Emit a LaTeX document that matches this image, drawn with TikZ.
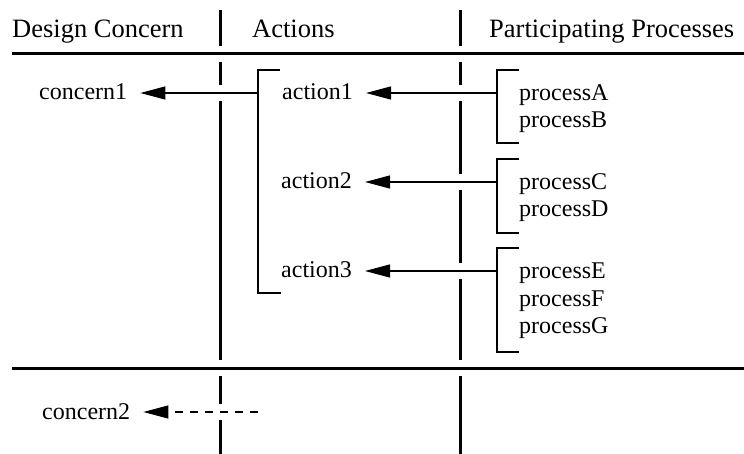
\documentclass[tikz,border=0pt]{standalone}
\usepackage{fontspec}
\setmainfont{Liberation Serif}
\usetikzlibrary{arrows.meta}

\begin{document}
\begin{tikzpicture}[x=1pt, y=-1pt,
    lbl/.style={anchor=base west, inner sep=0pt, font=\fontsize{24}{27}\selectfont},
    head/.style={lbl, font=\fontsize{26.5}{30}\selectfont},
    sepline/.style={line width=3pt},
    brk/.style={line width=1.2pt},
    arr/.style={line width=1.2pt, -{Triangle[length=25pt,width=13pt]}}]
\useasboundingbox (0,0) rectangle (744,454);
% column heads
\node[head] (hConcern) at (12,38) {Design Concern};
\node[head] (hActions) at (252,38) {Actions};
\node[head] (hProc) at (489,38) {Participating Processes};
% rules
\draw[sepline] (12,54) -- (744,54);
\draw[sepline] (12,368) -- (744,368);
\draw[sepline] (220,10) -- (220,46);
\draw[sepline] (220,62) -- (220,85);
\draw[sepline] (220,101) -- (220,360);
\draw[sepline] (220,376) -- (220,404);
\draw[sepline] (220,420) -- (220,454);
\draw[sepline] (460,10) -- (460,46);
\draw[sepline] (460,62) -- (460,85);
\draw[sepline] (460,101) -- (460,174);
\draw[sepline] (460,190) -- (460,263);
\draw[sepline] (460,279) -- (460,360);
\draw[sepline] (460,376) -- (460,454);
% concerns
\node[lbl] (concern1) at (39,100) {concern1};
\node[lbl] (concern2) at (42,419) {concern2};
% actions
\node[lbl] (action1) at (282,100) {action1};
\node[lbl] (action2) at (281,189) {action2};
\node[lbl] (action3) at (281,278) {action3};
\draw[brk] (280,70) -- (258,70) -- (258,293) -- (281,293);
\coordinate (bAct) at (258,93);
\coordinate (bFree) at (258,412);
% processes
\node[lbl] (procA) at (519,101) {processA};
\node[lbl] (procB) at (519,128) {processB};
\node[lbl] (procC) at (519,190) {processC};
\node[lbl] (procD) at (519,217) {processD};
\node[lbl] (procE) at (519,279) {processE};
\node[lbl] (procF) at (519,306) {processF};
\node[lbl] (procG) at (519,333) {processG};
\draw[brk] (519,70) -- (497,70) -- (497,143) -- (519,143);
\draw[brk] (519,159) -- (497,159) -- (497,233) -- (519,233);
\draw[brk] (519,248) -- (497,248) -- (497,352) -- (519,352);
\coordinate (bP1) at (497,93);
\coordinate (bP2) at (497,182);
\coordinate (bP3) at (497,271);
% links
\draw[arr] (bAct) -- ([xshift=13pt]bAct -| concern1.east);
\draw[arr, dash pattern=on 8pt off 7pt] (bFree) -- ([xshift=13pt]bFree -| concern2.east);
\draw[arr] (bP1) -- ([xshift=13pt]bP1 -| action1.east);
\draw[arr] (bP2) -- ([xshift=13pt]bP2 -| action2.east);
\draw[arr] (bP3) -- ([xshift=13pt]bP3 -| action3.east);
\end{tikzpicture}
\end{document}
